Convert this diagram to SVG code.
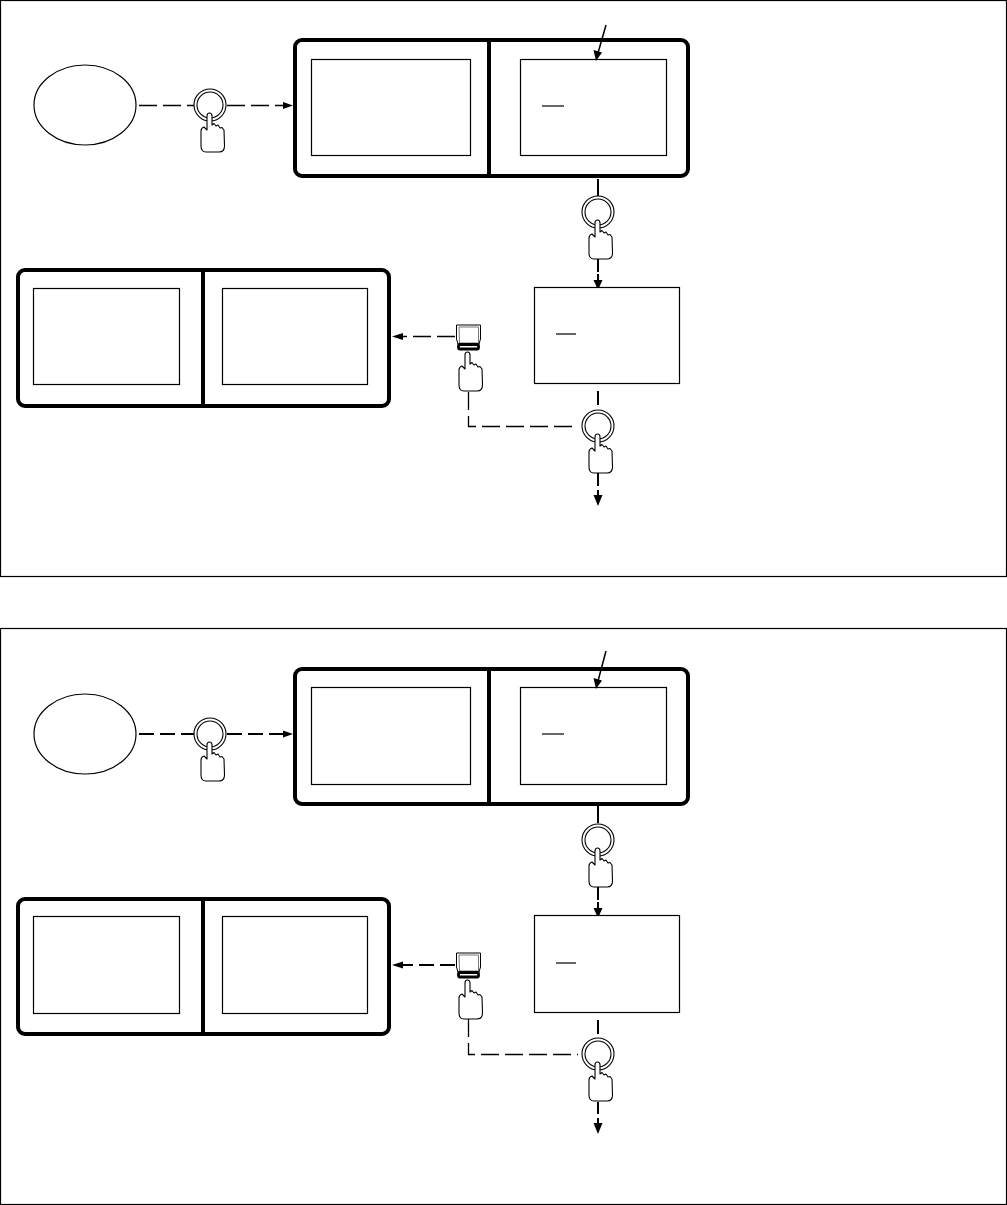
<svg xmlns="http://www.w3.org/2000/svg" width="1007" height="1205" viewBox="0 0 1007 1205">
<style>
.o{fill:none;stroke:#000;stroke-width:1.2}
.f{fill:#fff;stroke:#000;stroke-width:4;stroke-linejoin:round}
.r{fill:#fff;stroke:#000;stroke-width:1.2}
.d{fill:none;stroke:#000;stroke-width:2}
.w{fill:none;stroke:#000;stroke-width:4}
.c{fill:none;stroke:#000;stroke-width:1.5}
.t{fill:none;stroke:#000;stroke-width:1.3;stroke-dasharray:18 6}
.b{fill:none;stroke:#000;stroke-width:2;stroke-dasharray:15 6}
.a{fill:#000;stroke:none}
.h{fill:#fff;stroke:#000;stroke-width:1.1;stroke-linejoin:round}
</style>
<defs>
<path id="hand" class="h" d="M-3,11Q-3,8 -0.500,8Q2,8 2,11L2,20L4,18.500L6,21L8,20L10,23L12,22.500L14,25L14.500,41Q14.500,47 9,47L-4,47Q-9,47 -9,41L-9,26Q-9,23 -6,22L-3,25Z"/>
<g id="btn"><circle r="16" fill="#fff" stroke="#000" stroke-width="1.1"/><circle r="13" fill="none" stroke="#000" stroke-width="1.1"/><use href="#hand"/></g>
<g id="sw"><path d="M-12,-12H12V2L10.500,7H-10.500L-12,2Z" fill="#fff" stroke="#000" stroke-width="1"/><path d="M-9.500,-10H10V6H-9Z" fill="none" stroke="#777" stroke-width="1"/><rect x="-10" y="7.500" width="20" height="4.500" rx="1" fill="#fff" stroke="#000" stroke-width="2.800"/></g>
</defs>
<rect x="0.500" y="0.500" width="1006" height="576" class="o"/>
<rect x="0.500" y="628.500" width="1006" height="576" class="o"/>

<g id="connectors">
<path class="t" d="M139,105.500H196"/><path class="t" d="M227,105.500H284"/><path class="a" d="M283,102L293,105.500L283,109Z"/>
<path class="d" d="M598,179V196M598,258V272M598,274V281"/><path class="a" d="M593.500,280H602.500L598,290Z"/>
<path class="d" d="M598,391V405M598,473V486M598,490V495"/><path class="a" d="M593.500,495H602.500L598,506Z"/>
<path class="t" d="M455,336.500H402"/><path class="a" d="M403,333L392,336.500L403,340Z"/>
<path class="t" d="M468.500,392V426.500H578"/>

<path class="b" d="M139,734H196"/><path class="b" d="M227,734H284"/><path class="a" d="M283,730.500L293,734L283,737.500Z"/>
<path class="d" d="M598,806V823M598,886V900M598,902V908"/><path class="a" d="M593.500,908H602.500L598,918Z"/>
<path class="d" d="M598,1020V1034M598,1102V1114M598,1118V1123"/><path class="a" d="M593.500,1123H602.500L598,1134Z"/>
<path class="b" d="M455,965H402"/><path class="a" d="M403,961.500L392,965L403,968.500Z"/>
<path class="t" d="M468.500,1019V1054.500H578"/>
</g>

<g id="p1-start"><ellipse cx="85" cy="105" rx="51" ry="40" class="r"/></g>
<g id="p1-frame1"><rect x="295" y="40" width="393" height="136" rx="7" class="f"/><path class="w" d="M489,40V176"/><rect x="311.500" y="59.500" width="159" height="96" class="r"/><rect x="520.500" y="59.500" width="146" height="96" class="r"/><path class="o" d="M542,106H564"/><path class="c" d="M606,25L598,53"/><path class="a" d="M596,61L593.500,50L602,52.500Z"/></g>
<g id="p1-btn1"><use href="#btn" x="210" y="105"/></g>
<g id="p1-btn2"><use href="#btn" x="598" y="212"/></g>
<g id="p1-box"><rect x="534.500" y="287.500" width="145" height="96" class="r"/><path class="o" d="M556,334H576"/></g>
<g id="p1-frame2"><rect x="18" y="270" width="371" height="136" rx="7" class="f"/><path class="w" d="M203,270V406"/><rect x="33.500" y="288.500" width="146" height="96" class="r"/><rect x="222.500" y="288.500" width="145" height="96" class="r"/></g>
<g id="p1-switch"><use href="#sw" x="468.500" y="337"/><use href="#hand" x="468" y="344"/></g>
<g id="p1-btn3"><use href="#btn" x="598" y="426"/></g>

<g id="p2-start"><ellipse cx="85" cy="734" rx="51" ry="40" class="r"/></g>
<g id="p2-frame1"><rect x="295" y="669" width="393" height="135" rx="7" class="f"/><path class="w" d="M489,669V804"/><rect x="311.500" y="687.500" width="159" height="97" class="r"/><rect x="520.500" y="687.500" width="146" height="97" class="r"/><path class="o" d="M542,734H564"/><path class="c" d="M606,651L598,681"/><path class="a" d="M596,689L593.500,678L602,680.500Z"/></g>
<g id="p2-btn1"><use href="#btn" x="210" y="734"/></g>
<g id="p2-btn2"><use href="#btn" x="598" y="840"/></g>
<g id="p2-box"><rect x="534.500" y="915.500" width="145" height="97" class="r"/><path class="o" d="M556,963H576"/></g>
<g id="p2-frame2"><rect x="18" y="899" width="371" height="135" rx="7" class="f"/><path class="w" d="M203,899V1034"/><rect x="33.500" y="916.500" width="146" height="97" class="r"/><rect x="222.500" y="916.500" width="145" height="97" class="r"/></g>
<g id="p2-switch"><use href="#sw" x="468.500" y="965"/><use href="#hand" x="468" y="972"/></g>
<g id="p2-btn3"><use href="#btn" x="598" y="1054"/></g>
</svg>
